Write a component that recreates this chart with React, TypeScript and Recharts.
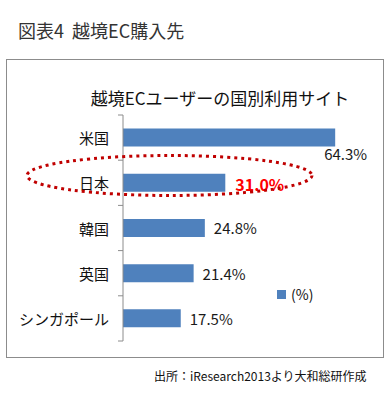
import { BarChart, Bar, XAxis, YAxis, LabelList, Legend } from "recharts";

const COUNTRIES = ["米国", "日本", "韓国", "英国", "シンガポール"];
const SHARES = [64.3, 31.0, 24.8, 21.4, 17.5];
const HIGHLIGHT = "日本";

const rows = COUNTRIES.map((name, i) => ({ name, value: SHARES[i] }));

const FONT = "'Noto Sans CJK JP', 'Noto Sans', sans-serif";
const W = 391;
const H = 416;
const MARGIN = { top: 115, right: 37, bottom: 75, left: 0 };
const BAND = (H - MARGIN.top - MARGIN.bottom) / COUNTRIES.length;
const BLUE = "#4f81bd";
const AXIS = "#8c8c8c";

// category label + tick marks sitting on the band boundaries (Excel style)
function CatTick(props: any) {
  const { x, y, payload, index } = props;
  const ax = x + 14;
  return (
    <g>
      <text x={x} y={y} textAnchor="end" dominantBaseline="central" fontSize={15} fontFamily={FONT} fill="#111">
        {payload.value}
      </text>
      <line x1={ax - 5} x2={ax} y1={y - BAND / 2} y2={y - BAND / 2} stroke={AXIS} strokeWidth={1} />
      {index === COUNTRIES.length - 1 && (
        <line x1={ax - 5} x2={ax} y1={y + BAND / 2} y2={y + BAND / 2} stroke={AXIS} strokeWidth={1} />
      )}
    </g>
  );
}

function ValueLabel(props: any) {
  const { x, y, width, height, value, index } = props;
  const txt = `${Number(value).toFixed(1)}%`;
  if (index === 0) {
    // longest bar: label drops below the bar end
    return (
      <text x={x + width - 11} y={y + height + 7} dominantBaseline="central" fontSize={15} fontFamily={FONT} fill="#1a1a1a">
        {txt}
      </text>
    );
  }
  if (COUNTRIES[index] === HIGHLIGHT) {
    return (
      <text x={x + width + 10} y={y + height / 2 + 1} dominantBaseline="central" fontSize={16} fontWeight="bold" fontFamily={FONT} fill="#ff0000">
        {txt}
      </text>
    );
  }
  return (
    <text x={x + width + 9} y={y + height / 2} dominantBaseline="central" fontSize={15} fontFamily={FONT} fill="#1a1a1a">
      {txt}
    </text>
  );
}

const renderLegend = () => (
  <div style={{ display: "flex", alignItems: "center", fontFamily: FONT, fontSize: 14, color: "#111" }}>
    <span style={{ display: "inline-block", width: 9, height: 9, background: BLUE, marginRight: 5 }} />
    <span>(%)</span>
  </div>
);

export default function App() {
  return (
    <div style={{ position: "absolute", left: 0, top: 0, width: W, height: H, background: "#fff", fontFamily: FONT }}>
      <div style={{ position: "absolute", left: 18, top: 18, fontSize: 18, lineHeight: "24px", color: "#333", whiteSpace: "nowrap" }}>
        図表4&nbsp;&nbsp;越境EC購入先
      </div>

      {/* frame */}
      <div style={{ position: "absolute", left: 6, top: 59, width: 376, height: 297, border: "1.5px solid #8c8c8c" }} />

      <div style={{ position: "absolute", left: 0, top: 87, width: 440, textAlign: "center", fontSize: 17, lineHeight: "22px", color: "#111", whiteSpace: "nowrap" }}>
        越境ECユーザーの国別利用サイト
      </div>

      <div style={{ position: "absolute", left: 0, top: 0 }}>
        <BarChart width={W} height={H} data={rows} layout="vertical" margin={MARGIN} barCategoryGap="30%">
          <XAxis type="number" domain={[0, 70]} hide />
          <YAxis
            type="category"
            dataKey="name"
            width={123}
            axisLine={{ stroke: AXIS, strokeWidth: 1 }}
            tickLine={false}
            tickSize={0}
            tickMargin={14}
            tick={<CatTick />}
            interval={0}
          />
          <Legend
            layout="vertical"
            align="center"
            verticalAlign="middle"
            content={renderLegend}
            wrapperStyle={{ left: 277, top: 284, width: 60, height: 18 }}
          />
          <Bar dataKey="value" name="(%)" fill={BLUE} isAnimationActive={false}>
            <LabelList dataKey="value" content={<ValueLabel />} />
          </Bar>
        </BarChart>
      </div>

      {/* dotted callout around Japan */}
      <svg width={W} height={H} style={{ position: "absolute", left: 0, top: 0, pointerEvents: "none" }}>
        <ellipse cx={169.5} cy={175.5} rx={142.5} ry={20} fill="none" stroke="#c00000" strokeWidth={3} strokeDasharray="3 4" />
      </svg>

      <div style={{ position: "absolute", left: 154, top: 368, fontSize: 12, lineHeight: "16px", color: "#111", whiteSpace: "nowrap" }}>
        出所：iResearch2013より大和総研作成
      </div>
    </div>
  );
}
